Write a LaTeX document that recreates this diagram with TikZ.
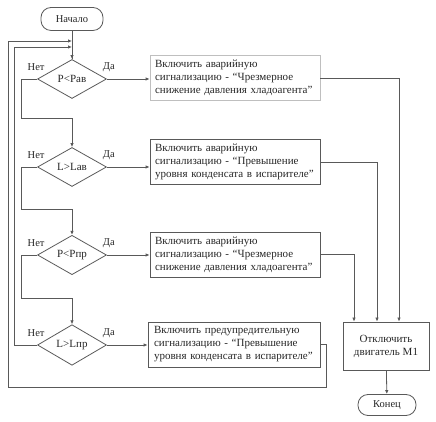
\documentclass[tikz,border=0pt]{standalone}
\usepackage{fontspec}
\setmainfont{Liberation Serif}
\usetikzlibrary{shapes.geometric,arrows.meta}

\tikzset{
  line/.style={draw=black!65, line width=0.8pt},
  arr/.style={line, -{Latex[length=4pt,width=3.5pt]}},
  termbox/.style={draw=black!65, line width=0.8pt, rounded corners=10pt, text=black!85,
    font=\fontsize{10.5}{12}\selectfont},
  decide/.style={diamond, draw=black!65, line width=0.8pt, minimum width=69pt, minimum height=39pt,
    inner sep=0pt, text=black!85, font=\fontsize{11}{13}\selectfont},
  actbox/.style={draw=black!65, line width=0.8pt, minimum width=170pt, minimum height=45pt,
    text width=160pt, inner xsep=5pt, align=left, text=black!85, font=\fontsize{11}{13}\selectfont},
  lbl/.style={text=black!85, font=\fontsize{10.5}{12}\selectfont}
}

\begin{document}
\begin{tikzpicture}[x=1pt,y=1pt]
\useasboundingbox (0,0) rectangle (436,422);

% Start
\node[termbox, minimum width=62pt, minimum height=23pt] (start) at (72,403) {Начало};

% Decisions
\node[decide] (d1) at (72,343) {P<Pав};
\node[decide] (d2) at (72,255) {L>Lав};
\node[decide] (d3) at (72,167) {P<Pпр};
\node[decide] (d4) at (72,77) {L>Lпр};

% Labels
\foreach \d in {d1,d2,d3,d4} {
    \node[lbl] (no-\d) at ([xshift=-1pt,yshift=12pt]\d.west) {Нет};
    \node[lbl] (yes-\d) at ([xshift=2pt,yshift=12pt]\d.east) {Да};
}

% Alarm boxes
\node[actbox, draw=black!25] (b1) at (235,344) {Включить аварийную\\сигнализацию - “Чрезмерное\\снижение давления хладоагента”};
\node[actbox] (b2) at (235,260) {Включить аварийную\\сигнализацию - “Превышение\\уровня конденсата в испарителе”};
\node[actbox] (b3) at (235,167.5) {Включить аварийную\\сигнализацию - “Чрезмерное\\снижение давления хладоагента”};
\node[actbox, minimum width=172pt] (b4) at (234,77.5) {Включить предупредительную\\сигнализацию - “Превышение\\уровня конденсата в испарителе”};

% Motor off and end
\node[termbox, rounded corners=0pt, minimum width=86pt, minimum height=48pt, align=center,
      font=\fontsize{11}{13}\selectfont] (m1) at (386,76) {Отключить\\двигатель M1};
\node[termbox, minimum width=58pt, minimum height=21pt] (end) at (387,17) {Конец};

% Loop corners
\coordinate (j1) at (21,304);
\coordinate (j2) at (21,213);
\coordinate (j3) at (21,124);
\coordinate (j4) at (14,375);
\coordinate (j5) at (326,35);
\coordinate (j6) at (8,381);

% Main flow
\draw[line] (start) -- (d1);
\draw[arr] (start.south |- j4) -- (d1.north);
\draw[arr] (d1.west) -| (j1) -| (d2.north);
\draw[arr] (d2.west) -| (j2) -| (d3.north);
\draw[arr] (d3.west) -| (j3) -| (d4.north);

% Back to the top
\draw[arr] (d4.west) -| (j4) -- (j4 -| start.south);
\draw[arr] (b4.east) -| (j5) -| (j6) -- (j6 -| start.south);

% Yes branches
\foreach \i in {1,2,3,4} {
    \draw[arr] (d\i.east) -- (d\i.east -| b\i.west);
}

% Into motor box
\draw[arr] (b1.east) -| ([xshift=13pt]m1.north);
\draw[arr] (b2.east) -| ([xshift=-9pt]m1.north);
\draw[arr] (b3.east) -| ([xshift=-32pt]m1.north);
\draw[arr] (m1) -- (end);

\end{tikzpicture}
\end{document}
